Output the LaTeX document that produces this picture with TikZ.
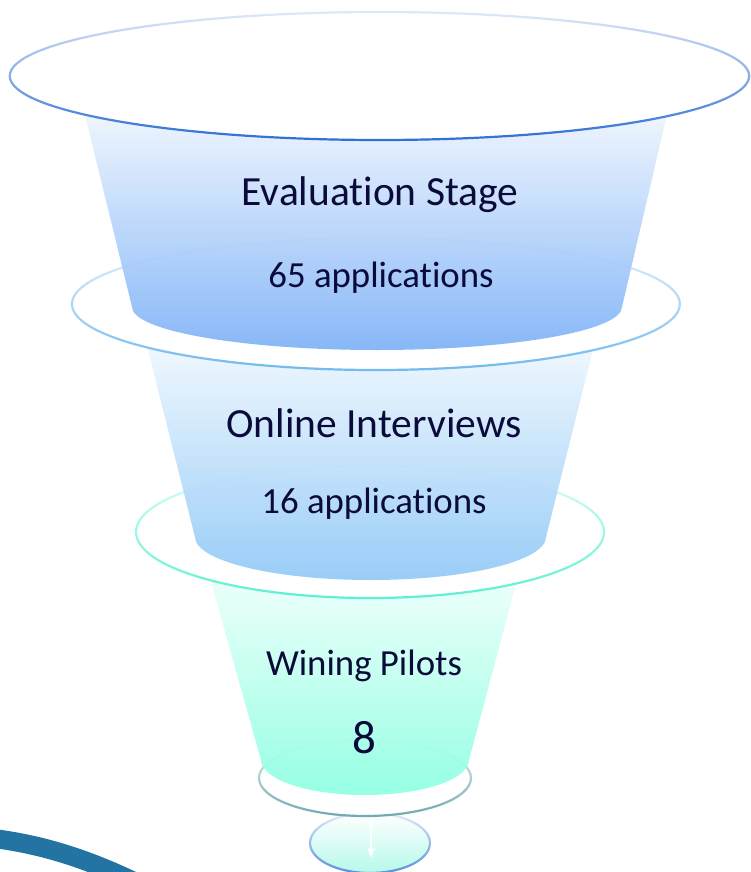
\documentclass[tikz,border=0pt]{standalone}
\usepackage{fontspec}
\setmainfont{Carlito}[Ligatures=NoCommon]
\usepackage{xcolor}
\usetikzlibrary{arrows.meta,fadings}
\definecolor{inkblue}{HTML}{0B0B3B}
\definecolor{ringone}{HTML}{2F6FD4}
\definecolor{ringtwo}{HTML}{72BAF0}
\definecolor{ringthree}{HTML}{5CF0D2}
\definecolor{ringfour}{HTML}{6FA9B2}
\definecolor{ringfive}{HTML}{5E8FDC}
\definecolor{stageone}{HTML}{7EB2F7}
\definecolor{stagetwo}{HTML}{91C9F7}
\definecolor{stagethree}{HTML}{8DFFE2}
\definecolor{swoosh}{HTML}{2374A2}
\newcommand{\ti}{t\kern0pt i}
\tikzfading[name=ringfade, top color=transparent!85, bottom color=transparent!0]
\tikzset{
	ringline/.style={draw=#1, line width=2.2pt, path fading=ringfade},
	stagebody/.style={top color=white, middle color=#1!62, bottom color=#1, fill opacity=0.92},
	title/.style={text=inkblue, font=\fontsize{41.5}{48}\selectfont, anchor=base},
	count/.style={text=inkblue, font=\fontsize{36.8}{44}\selectfont, anchor=base}
}

\begin{document}
\begin{tikzpicture}[x=1pt, y=-1pt]
	\useasboundingbox (0,0) rectangle (751,872);

	\draw[swoosh, line width=19pt] (-10,838) .. controls (40,844) and (85,858) .. (135,882);

	\shade[top color=white, bottom color=ringthree!45] (370,843) ellipse [x radius=60, y radius=30];
	\draw[ringline=ringfive] (370,843) ellipse [x radius=60, y radius=30];
	\coordinate (arrowtop) at (371,818);
	\coordinate (arrowtip) at (371,858);
	\draw[white, line width=1.6pt, -{Stealth[length=11pt, width=8pt]}] (arrowtop) -- (arrowtip);

	\fill[white] (365,778) ellipse [x radius=106, y radius=38];
	\draw[ringline=ringfour] (365,778) ellipse [x radius=106, y radius=38];
	\shade[stagebody=stagethree] (197,532) -- (261,760) arc[start angle=180, end angle=0, x radius=104, y radius=35] -- (530,532) -- cycle;

	\fill[white] (370,532) ellipse [x radius=234, y radius=66];
	\draw[ringline=ringthree] (370,532) ellipse [x radius=234, y radius=66];
	\shade[stagebody=stagetwo] (136.5,304) -- (195,537) arc[start angle=180, end angle=0, x radius=175.5, y radius=43] -- (604.5,304) -- cycle;

	\fill[white] (376,304) ellipse [x radius=304, y radius=66];
	\draw[ringline=ringtwo] (376,304) ellipse [x radius=304, y radius=66];
	\shade[stagebody=stageone] (75.5,76) -- (132,307) arc[start angle=180, end angle=0, x radius=245, y radius=43] -- (676,76) -- cycle;

	\fill[white] (380,76) ellipse [x radius=370, y radius=64];
	\draw[ringline=ringone] (380,76) ellipse [x radius=370, y radius=64];

	\node[title] (evaltitle) at (380,205) {Evalua\ti on Stage};
	\node[count] (evalcount) at (381,287) {65 applica\ti ons};
	\node[title] (onlinetitle) at (374,437) {Online Interviews};
	\node[count] (onlinecount) at (374,513) {16 applica\ti ons};
	\node[count] (pilottitle) at (364,675) {Wining Pilots};
	\node[text=inkblue, font=\fontsize{47}{52}\selectfont, anchor=base] (pilotcount) at (364,753) {8};
\end{tikzpicture}
\end{document}
